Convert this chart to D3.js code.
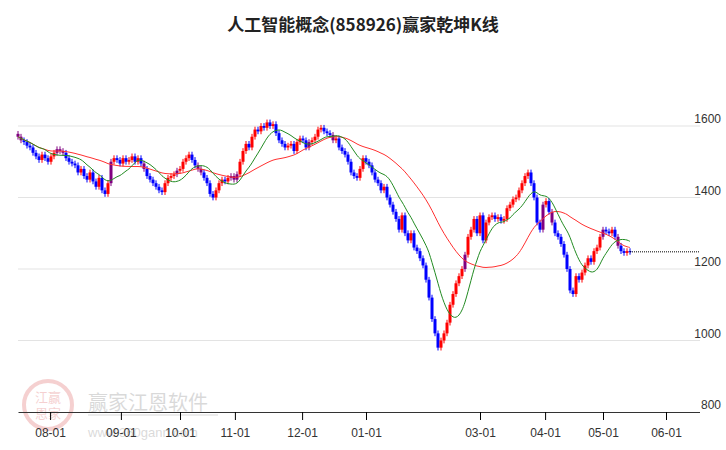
<!DOCTYPE html>
<html><head><meta charset="utf-8">
<script src="https://cdn.jsdelivr.net/npm/d3@7"></script>
<style>body{margin:0;background:#fff}</style></head>
<body><div id="chart"></div>
<script>
var width = 726, height = 450;

// daily closes
var closes = [
  1570,1560,1555,1545,1540,1525,1515,1505,1520,1510,
  1500,1515,1525,1535,1530,1525,1510,1500,1495,1490,
  1470,1480,1460,1450,1470,1445,1430,1455,1420,1410,
  1440,1500,1510,1505,1495,1510,1500,1505,1515,1500,
  1510,1495,1480,1460,1450,1440,1430,1420,1415,1440,
  1455,1460,1465,1475,1480,1500,1510,1520,1505,1490,
  1480,1470,1455,1440,1410,1400,1420,1440,1450,1445,
  1455,1460,1450,1465,1500,1530,1550,1540,1570,1590,
  1585,1600,1595,1610,1600,1605,1580,1560,1550,1540,
  1545,1550,1530,1555,1565,1560,1540,1555,1560,1570,
  1590,1595,1585,1580,1575,1560,1565,1540,1530,1520,
  1500,1470,1460,1455,1480,1510,1500,1490,1470,1450,
  1440,1420,1430,1400,1380,1360,1340,1310,1350,1300,
  1280,1300,1260,1250,1230,1210,1170,1120,1060,1020,
  980,1000,1020,1050,1100,1130,1160,1180,1200,1240,
  1290,1310,1340,1300,1350,1280,1330,1345,1350,1340,
  1345,1335,1340,1370,1380,1395,1400,1420,1440,1460,
  1470,1440,1400,1330,1310,1380,1390,1360,1330,1300,
  1290,1270,1240,1200,1140,1130,1180,1170,1190,1210,
  1230,1220,1250,1260,1290,1310,1305,1300,1310,1290,
  1265,1250,1245,1250,1248
];
var monthLabels = ["08-01","09-01","10-01","11-01","12-01","01-01","03-01","04-01","05-01","06-01"];
var monthIndex = [10.7, 34.3, 54, 72.3, 94.7, 116, 154, 175.7, 195, 216];
var yTicks = [800, 1000, 1200, 1400, 1600];
var title = "人工智能概念(858926)赢家乾坤K线";

var svg = d3.select("#chart").append("svg").attr("width", width).attr("height", height)
  .style("font-family", "'Liberation Sans', Arial, sans-serif");

var x = d3.scaleLinear().domain([0, 1]).range([18, 21]);
var y = d3.scaleLinear().domain([800, 1600]).range([412, 126]);

// watermark
var wm = svg.append("g").attr("opacity", 0.18);
wm.append("circle").attr("cx", 48).attr("cy", 405).attr("r", 24).attr("fill", "none").attr("stroke", "#c00").attr("stroke-width", 4);
wm.append("text").attr("x", 48).attr("y", 402).attr("text-anchor", "middle").attr("font-size", 13).attr("fill", "#c00").attr("font-family", "'Noto Sans CJK SC'").text("江赢");
wm.append("text").attr("x", 48).attr("y", 418).attr("text-anchor", "middle").attr("font-size", 13).attr("fill", "#c00").attr("font-family", "'Noto Sans CJK SC'").text("恩家");
wm.append("text").attr("x", 88).attr("y", 410).attr("font-size", 20).attr("fill", "#333").attr("font-family", "'Noto Sans CJK SC'").text("赢家江恩软件");
wm.append("rect").attr("x", 88).attr("y", 414).attr("width", 130).attr("height", 2).attr("fill", "#999");
wm.append("text").attr("x", 88).attr("y", 437).attr("font-size", 13).attr("fill", "#333").text("www.360gann.com");

// grid and y labels
yTicks.forEach(function (t) {
  if (t > 800) svg.append("line").attr("x1", 18).attr("x2", 700).attr("y1", y(t)).attr("y2", y(t))
    .attr("stroke", "#e3e3e3").attr("stroke-width", 1);
  svg.append("text").attr("x", 721).attr("y", y(t) - 3).attr("text-anchor", "end")
    .attr("font-size", 12).attr("fill", "#333").text(t);
});

// x axis
var xAxis = d3.axisBottom(x).tickValues(monthIndex).tickSize(8)
  .tickFormat(function (d, i) { return monthLabels[i]; });
var ax = svg.append("g").attr("transform", "translate(0,412)").call(xAxis);
ax.select(".domain").attr("d", "M18.5,0.5H700").attr("stroke", "#333");
ax.selectAll("text").attr("font-size", 12).attr("fill", "#333").attr("dy", "1.2em");

// moving averages
function ma(n) {
  return closes.map(function (c, i) {
    var s = closes.slice(Math.max(0, i - n + 1), i + 1);
    return d3.mean(s);
  });
}
var maFast = ma(10), maSlow = ma(30);
var line = d3.line().x(function (d, i) { return x(i); }).y(function (d) { return y(d); }).curve(d3.curveBasis);

// candles
var candles = closes.map(function (c, i) {
  var o = i === 0 ? c + 8 : closes[i - 1];
  return { i: i, o: o, c: c, h: Math.max(o, c) + 8, l: Math.min(o, c) - 8 };
});
function color(d) {
  var m = maSlow[d.i];
  if (Math.min(d.o, d.c) <= m && Math.max(d.o, d.c) >= m) return "#800080";
  return d.c >= d.o ? "#ff0000" : "#0000ff";
}
var g = svg.append("g");
g.selectAll("line").data(candles).enter().append("line")
  .attr("x1", function (d) { return x(d.i); }).attr("x2", function (d) { return x(d.i); })
  .attr("y1", function (d) { return y(d.h); }).attr("y2", function (d) { return y(d.l); })
  .attr("stroke", color).attr("stroke-width", 1);
g.selectAll("rect").data(candles).enter().append("rect")
  .attr("x", function (d) { return x(d.i) - 1.5; }).attr("width", 3)
  .attr("y", function (d) { return y(Math.max(d.o, d.c)); })
  .attr("height", function (d) { return Math.max(1, Math.abs(y(d.o) - y(d.c))); })
  .attr("fill", color);

svg.append("path").attr("d", line(maSlow)).attr("fill", "none").attr("stroke", "#ff3030").attr("stroke-width", 1);
svg.append("path").attr("d", line(maFast)).attr("fill", "none").attr("stroke", "#228b22").attr("stroke-width", 1);

// last price line
var last = closes[closes.length - 1];
svg.append("line").attr("x1", x(closes.length - 1)).attr("x2", 700).attr("y1", y(last)).attr("y2", y(last))
  .attr("stroke", "#000").attr("stroke-dasharray", "1,1");

svg.append("text").attr("x", width / 2).attr("y", 31).attr("text-anchor", "middle")
  .attr("font-size", 17).attr("font-weight", "bold").attr("fill", "#222")
  .attr("font-family", "'Noto Sans CJK SC', sans-serif").text(title);
</script></body></html>
